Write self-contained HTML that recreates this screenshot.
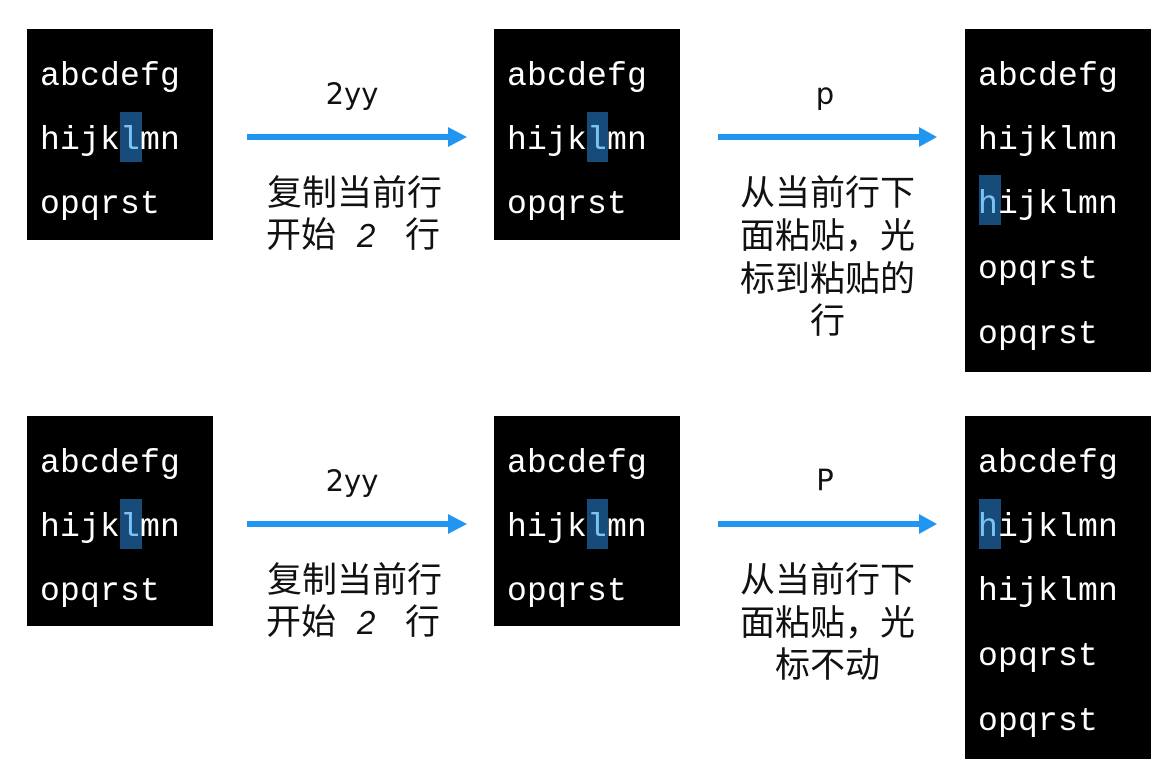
<!DOCTYPE html>
<html>
<head>
<meta charset="utf-8">
<style>
  html,body{margin:0;padding:0;background:#fff;}
  svg{display:block;}
  .mono{font-family:"Liberation Mono",monospace;font-size:33px;fill:#fff;letter-spacing:0.2px;}
  .hl{fill:#7cc3f5;}
  .cmd{font-family:"DejaVu Sans","Liberation Sans",sans-serif;font-size:29px;fill:#111;}
  .cjk{font-family:"Liberation Sans","Noto Sans CJK SC",sans-serif;font-size:35px;fill:#111;}
  .it{font-family:"Liberation Sans",sans-serif;font-style:italic;font-size:33px;fill:#111;}
</style>
</head>
<body>
<svg width="1175" height="776" viewBox="0 0 1175 776" xmlns="http://www.w3.org/2000/svg">
  <!-- ============ TOP ROW ============ -->
  <rect x="27" y="29" width="186" height="211" fill="#000"/>
  <rect x="120" y="112" width="22" height="50" fill="#174b79"/>
  <text class="mono" x="40" y="85">abcdefg</text>
  <text class="mono" x="40" y="149">hijk<tspan class="hl">l</tspan>mn</text>
  <text class="mono" x="40" y="213">opqrst</text>

  <rect x="247" y="134" width="203" height="6" fill="#2196f0"/>
  <polygon points="448,127 467,137 448,147" fill="#2196f0"/>
  <text class="cmd" x="352" y="104" text-anchor="middle">2yy</text>
  <text class="cjk" x="267" y="205">复制当前行</text>
  <text class="cjk" x="266" y="247">开始</text>
  <text class="it" x="357" y="247">2</text>
  <text class="cjk" x="405" y="247">行</text>

  <rect x="494" y="29" width="186" height="211" fill="#000"/>
  <rect x="587" y="112" width="21" height="50" fill="#174b79"/>
  <text class="mono" x="507" y="85">abcdefg</text>
  <text class="mono" x="507" y="149">hijk<tspan class="hl">l</tspan>mn</text>
  <text class="mono" x="507" y="213">opqrst</text>

  <rect x="718" y="134" width="203" height="6" fill="#2196f0"/>
  <polygon points="919,127 937,137 919,147" fill="#2196f0"/>
  <text class="cmd" x="825" y="104" text-anchor="middle">p</text>
  <text class="cjk" x="827.5" y="205" text-anchor="middle">从当前行下</text>
  <text class="cjk" x="827.5" y="248" text-anchor="middle">面粘贴，光</text>
  <text class="cjk" x="827.5" y="291" text-anchor="middle">标到粘贴的</text>
  <text class="cjk" x="827.5" y="333" text-anchor="middle">行</text>

  <rect x="965" y="29" width="186" height="343" fill="#000"/>
  <rect x="979" y="175" width="22" height="50" fill="#174b79"/>
  <text class="mono" x="978" y="85">abcdefg</text>
  <text class="mono" x="978" y="149">hijklmn</text>
  <text class="mono" x="978" y="213"><tspan class="hl">h</tspan>ijklmn</text>
  <text class="mono" x="978" y="278">opqrst</text>
  <text class="mono" x="978" y="343">opqrst</text>

  <!-- ============ BOTTOM ROW ============ -->
  <rect x="27" y="416" width="186" height="210" fill="#000"/>
  <rect x="120" y="499" width="22" height="50" fill="#174b79"/>
  <text class="mono" x="40" y="472">abcdefg</text>
  <text class="mono" x="40" y="536">hijk<tspan class="hl">l</tspan>mn</text>
  <text class="mono" x="40" y="600">opqrst</text>

  <rect x="247" y="521" width="203" height="6" fill="#2196f0"/>
  <polygon points="448,514 467,524 448,534" fill="#2196f0"/>
  <text class="cmd" x="352" y="491" text-anchor="middle">2yy</text>
  <text class="cjk" x="267" y="592">复制当前行</text>
  <text class="cjk" x="266" y="634">开始</text>
  <text class="it" x="357" y="634">2</text>
  <text class="cjk" x="405" y="634">行</text>

  <rect x="494" y="416" width="186" height="210" fill="#000"/>
  <rect x="587" y="499" width="21" height="50" fill="#174b79"/>
  <text class="mono" x="507" y="472">abcdefg</text>
  <text class="mono" x="507" y="536">hijk<tspan class="hl">l</tspan>mn</text>
  <text class="mono" x="507" y="600">opqrst</text>

  <rect x="718" y="521" width="203" height="6" fill="#2196f0"/>
  <polygon points="919,514 937,524 919,534" fill="#2196f0"/>
  <text class="cmd" x="825" y="490" text-anchor="middle">P</text>
  <text class="cjk" x="827.5" y="592" text-anchor="middle">从当前行下</text>
  <text class="cjk" x="827.5" y="635" text-anchor="middle">面粘贴，光</text>
  <text class="cjk" x="827.5" y="677" text-anchor="middle">标不动</text>

  <rect x="965" y="416" width="186" height="343" fill="#000"/>
  <rect x="979" y="499" width="22" height="50" fill="#174b79"/>
  <text class="mono" x="978" y="472">abcdefg</text>
  <text class="mono" x="978" y="536"><tspan class="hl">h</tspan>ijklmn</text>
  <text class="mono" x="978" y="600">hijklmn</text>
  <text class="mono" x="978" y="665">opqrst</text>
  <text class="mono" x="978" y="730">opqrst</text>
</svg>
</body>
</html>
